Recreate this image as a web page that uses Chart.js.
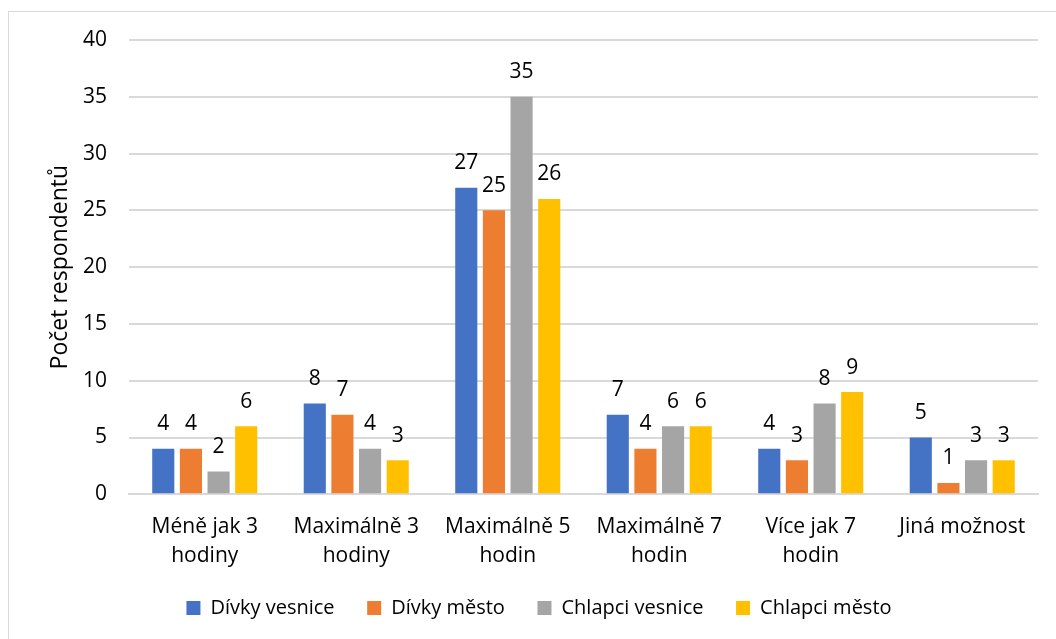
<!DOCTYPE html>
<html><head><meta charset="utf-8">
<script src="https://cdn.jsdelivr.net/npm/chart.js@4"></script>
<style>
html,body{margin:0;padding:0;background:#fff;}
#wrap{position:absolute;left:0;top:0;width:1056px;height:639px;}
#frame{position:absolute;left:8px;top:11px;width:1100px;height:700px;border:1px solid #d9d9d9;}
</style></head><body>
<div id="frame"></div>
<div id="wrap"><canvas id="c" width="1056" height="639"></canvas></div>
<script>
const categories = [["Méně jak 3","hodiny"],["Maximálně 3","hodiny"],["Maximálně 5","hodin"],["Maximálně 7","hodin"],["Více jak 7","hodin"],"Jiná možnost"];
const divkyVesnice = [4,8,27,7,4,5];
const divkyMesto = [4,7,25,4,3,1];
const chlapciVesnice = [2,4,35,6,8,3];
const chlapciMesto = [6,3,26,6,9,3];
const seriesNames = ["Dívky vesnice","Dívky město","Chlapci vesnice","Chlapci město"];
const colors = ["#4472C4","#ED7D31","#A5A5A5","#FFC000"];
const FONT = "'Open Sans', 'Liberation Sans', sans-serif";

const labelPlugin = {
  id:'barLabels',
  afterLayout(chart){
    if (chart.legend) { chart.legend.left += 9; chart.legend.right += 9; }
  },
  afterDatasetsDraw(chart){
    const ctx = chart.ctx;
    ctx.save();
    ctx.font = "21px " + FONT;
    ctx.fillStyle = "#000";
    ctx.textAlign = "center";
    ctx.textBaseline = "bottom";
    chart.data.datasets.forEach((ds,i)=>{
      const meta = chart.getDatasetMeta(i);
      meta.data.forEach((bar,j)=>{
        ctx.fillText(String(ds.data[j]), bar.x, bar.y - 14);
      });
    });
    ctx.restore();
  }
};

const data = {
  labels: categories,
  datasets: [divkyVesnice, divkyMesto, chlapciVesnice, chlapciMesto].map((d,i)=>({
    label: seriesNames[i],
    data: d,
    backgroundColor: colors[i],
    borderWidth: 0,
    categoryPercentage: 0.73,
    barPercentage: 0.8
  }))
};

new Chart(document.getElementById('c'), {
  type:'bar',
  data,
  plugins:[labelPlugin],
  options:{
    responsive:false,
    animation:false,
    layout:{padding:{left:22,right:18,top:40,bottom:11}},
    plugins:{
      legend:{
        position:'bottom',
        labels:{
          font:{family:FONT,size:20},
          color:'#000',
          boxWidth:14, boxHeight:14,
          padding:17,
          generateLabels(chart){
            const items = Chart.defaults.plugins.legend.labels.generateLabels(chart);
            items.forEach((it,i)=>{ if(i < items.length-1) it.text = it.text + '   '; });
            return items;
          }
        }
      },
      tooltip:{enabled:false}
    },
    scales:{
      x:{
        grid:{display:false},
        border:{display:true,color:'#d9d9d9',width:2},
        ticks:{font:{family:FONT,size:21,lineHeight:1.35},color:'#000',maxRotation:0,padding:11}
      },
      y:{
        min:0,max:40,
        afterFit(scale){ scale.width = 107; },
        ticks:{stepSize:5,font:{family:FONT,size:21},color:'#000',padding:22},
        grid:{color:'#d9d9d9',lineWidth:2,drawTicks:false},
        border:{display:false},
        title:{display:true,text:'Počet respondentů',font:{family:FONT,size:23},color:'#000',padding:{top:25,bottom:8}}
      }
    }
  }
});
</script>
</body></html>
